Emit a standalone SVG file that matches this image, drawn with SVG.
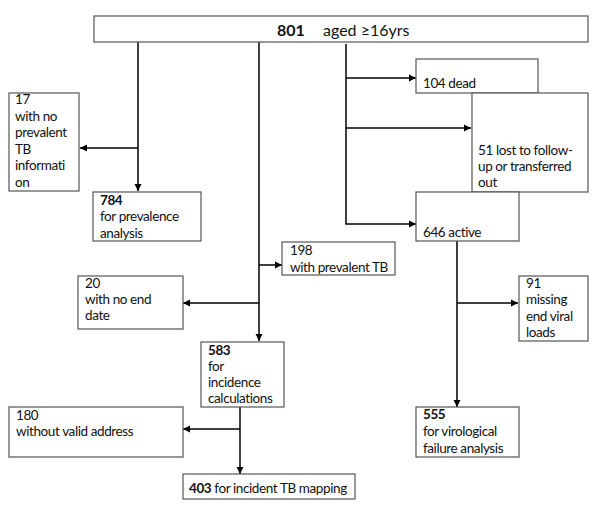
<svg xmlns="http://www.w3.org/2000/svg" width="600" height="506" viewBox="0 0 600 506">
<style>
.box{fill:#fff;stroke:#555;stroke-width:1.2}
text{font-family:Lato,"Liberation Sans",sans-serif;font-size:13.5px;fill:#111;letter-spacing:-0.4px;font-variant-ligatures:none}
.b{font-weight:bold}
.big{font-size:16px;letter-spacing:0}
.c{fill:none;stroke:#000;stroke-width:1.5}
</style>
<defs>
<marker id="ah" markerWidth="8" markerHeight="8" refX="7" refY="4" orient="auto" markerUnits="userSpaceOnUse">
<path d="M0,0.5 L7,4 L0,7.5 Z" fill="#000"/>
</marker>
</defs>
<rect width="600" height="506" fill="#fff"/>
<g id="connectors">
<line class="c" x1="138" y1="42" x2="138" y2="191" marker-end="url(#ah)"/>
<line class="c" x1="138" y1="148" x2="80" y2="148" marker-end="url(#ah)"/>
<line class="c" x1="259" y1="42" x2="259" y2="341" marker-end="url(#ah)"/>
<line class="c" x1="259" y1="265" x2="282" y2="265" marker-end="url(#ah)"/>
<line class="c" x1="259" y1="303" x2="183" y2="303" marker-end="url(#ah)"/>
<line class="c" x1="240" y1="407" x2="240" y2="474" marker-end="url(#ah)"/>
<line class="c" x1="240" y1="429" x2="183" y2="429" marker-end="url(#ah)"/>
<line class="c" x1="346" y1="44" x2="346" y2="224"/>
<line class="c" x1="346" y1="78" x2="416" y2="78" marker-end="url(#ah)"/>
<line class="c" x1="346" y1="128" x2="471" y2="128" marker-end="url(#ah)"/>
<line class="c" x1="345.25" y1="224" x2="416" y2="224" marker-end="url(#ah)"/>
<line class="c" x1="457" y1="241" x2="457" y2="407" marker-end="url(#ah)"/>
<line class="c" x1="457" y1="303" x2="518" y2="303" marker-end="url(#ah)"/>
</g>
<g id="n801">
<rect class="box" x="94" y="16" width="494" height="26"/>
<text class="big" x="277" y="36"><tspan class="b">801</tspan><tspan x="323">aged ≥16yrs</tspan></text>
</g>
<g id="n17">
<rect class="box" x="9" y="93" width="70" height="98"/>
<text x="15" y="104">17</text>
<text x="15" y="121">with no</text>
<text x="15" y="137">prevalent</text>
<text x="15" y="154">TB</text>
<text x="15" y="170">informati</text>
<text x="15" y="187">on</text>
</g>
<g id="n784">
<rect class="box" x="93" y="192" width="108" height="49"/>
<text class="b" x="100" y="205">784</text>
<text x="100" y="221">for prevalence</text>
<text x="100" y="238">analysis</text>
</g>
<g id="n198">
<rect class="box" x="282" y="242" width="113" height="33"/>
<text x="290" y="255">198</text>
<text x="290" y="272">with prevalent TB</text>
</g>
<g id="n20">
<rect class="box" x="78" y="276" width="105" height="53"/>
<text x="85" y="288">20</text>
<text x="85" y="304">with no end</text>
<text x="85" y="320">date</text>
</g>
<g id="n583">
<rect class="box" x="201" y="342" width="83" height="65"/>
<text class="b" x="208" y="355">583</text>
<text x="208" y="371">for</text>
<text x="208" y="387">incidence</text>
<text x="208" y="403">calculations</text>
</g>
<g id="n180">
<rect class="box" x="9" y="407" width="174" height="50"/>
<text x="16" y="420">180</text>
<text x="16" y="436">without valid address</text>
</g>
<g id="n403">
<rect class="box" x="183" y="474" width="172" height="25"/>
<text x="189" y="493"><tspan class="b">403</tspan> for incident TB mapping</text>
</g>
<g id="n104">
<rect class="box" x="416" y="59" width="122" height="34"/>
<text x="423" y="88">104 dead</text>
</g>
<g id="n51">
<rect class="box" x="472" y="93" width="116" height="99"/>
<text x="478" y="155">51 lost to follow-</text>
<text x="478" y="171">up or transferred</text>
<text x="478" y="187">out</text>
</g>
<g id="n646">
<rect class="box" x="416" y="192" width="103" height="49"/>
<text x="423" y="237">646 active</text>
</g>
<g id="n91">
<rect class="box" x="519" y="276" width="69" height="65"/>
<text x="526" y="288">91</text>
<text x="526" y="304">missing</text>
<text x="526" y="321">end viral</text>
<text x="526" y="337">loads</text>
</g>
<g id="n555">
<rect class="box" x="416" y="407" width="103" height="50"/>
<text class="b" x="423" y="419">555</text>
<text x="423" y="436">for virological</text>
<text x="423" y="453">failure analysis</text>
</g>
</svg>
